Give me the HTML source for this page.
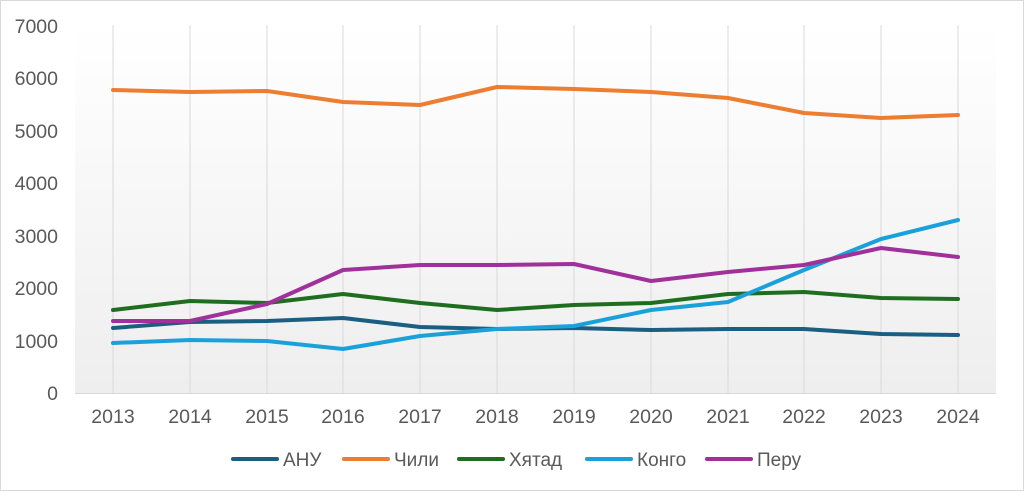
<!DOCTYPE html>
<html><head><meta charset="utf-8"><style>
body{margin:0;background:#fff}
svg{display:block;font-family:"Liberation Sans",sans-serif}
</style></head><body>
<svg width="1024" height="491" viewBox="0 0 1024 491">
<defs><linearGradient id="g" x1="0" y1="0" x2="0" y2="1"><stop offset="0" stop-color="#ffffff"/><stop offset="1" stop-color="#eeeeee"/></linearGradient></defs>
<rect x="0.5" y="0.5" width="1023" height="490" fill="#fff" stroke="#d9d9d9"/>
<rect x="75" y="25" width="921" height="368" fill="url(#g)"/>
<g stroke="#d9d9d9" stroke-width="1">
<line x1="113" y1="25" x2="113" y2="393"/><line x1="190" y1="25" x2="190" y2="393"/><line x1="267" y1="25" x2="267" y2="393"/><line x1="343" y1="25" x2="343" y2="393"/><line x1="420" y1="25" x2="420" y2="393"/><line x1="497" y1="25" x2="497" y2="393"/><line x1="574" y1="25" x2="574" y2="393"/><line x1="651" y1="25" x2="651" y2="393"/><line x1="728" y1="25" x2="728" y2="393"/><line x1="804" y1="25" x2="804" y2="393"/><line x1="881" y1="25" x2="881" y2="393"/><line x1="958" y1="25" x2="958" y2="393"/>
<line x1="75" y1="393.5" x2="996" y2="393.5"/>
</g>
<g font-size="19.5" fill="#595959" text-anchor="end">
<text x="58" y="400">0</text><text x="58" y="348">1000</text><text x="58" y="295">2000</text><text x="58" y="243">3000</text><text x="58" y="190">4000</text><text x="58" y="138">5000</text><text x="58" y="85">6000</text><text x="58" y="33">7000</text>
</g>
<g font-size="19.5" fill="#595959" text-anchor="middle">
<text x="113" y="423">2013</text><text x="190" y="423">2014</text><text x="267" y="423">2015</text><text x="343" y="423">2016</text><text x="420" y="423">2017</text><text x="497" y="423">2018</text><text x="574" y="423">2019</text><text x="651" y="423">2020</text><text x="728" y="423">2021</text><text x="804" y="423">2022</text><text x="881" y="423">2023</text><text x="958" y="423">2024</text>
</g>
<g fill="none" stroke-width="4" stroke-linejoin="round" stroke-linecap="round">
<polyline stroke="#ED7D31" points="113,90 190,92 267,91 343,102 420,105 497,87 574,89 651,92 728,98 804,113 881,118 958,115"/>
<polyline stroke="#1F6E1F" points="113,310 190,301 267,303 343,294 420,303 497,310 574,305 651,303 728,294 804,292 881,298 958,299"/>
<polyline stroke="#1A5E82" points="113,328 190,322 267,321 343,318 420,327 497,329 574,328 651,330 728,329 804,329 881,334 958,335"/>
<polyline stroke="#1BA1DA" points="113,343 190,340 267,341 343,349 420,336 497,329 574,326 651,310 728,302 804,270 881,239 958,220"/>
<polyline stroke="#A0309A" points="113,321 190,321 267,304 343,270 420,265 497,265 574,264 651,281 728,272 804,265 881,248 958,257"/>
</g>
<g stroke-width="4" stroke-linecap="round">
<line x1="233" y1="459" x2="277" y2="459" stroke="#1A5E82"/>
<line x1="344" y1="459" x2="388" y2="459" stroke="#ED7D31"/>
<line x1="459" y1="459" x2="503" y2="459" stroke="#1F6E1F"/>
<line x1="587" y1="459" x2="631" y2="459" stroke="#1BA1DA"/>
<line x1="707" y1="459" x2="751" y2="459" stroke="#A0309A"/>
</g>
<g font-size="19" fill="#595959">
<text x="283" y="466">АНУ</text><text x="394" y="466">Чили</text><text x="509" y="466">Хятад</text><text x="637" y="466">Конго</text><text x="757" y="466">Перу</text>
</g>
</svg>
</body></html>
